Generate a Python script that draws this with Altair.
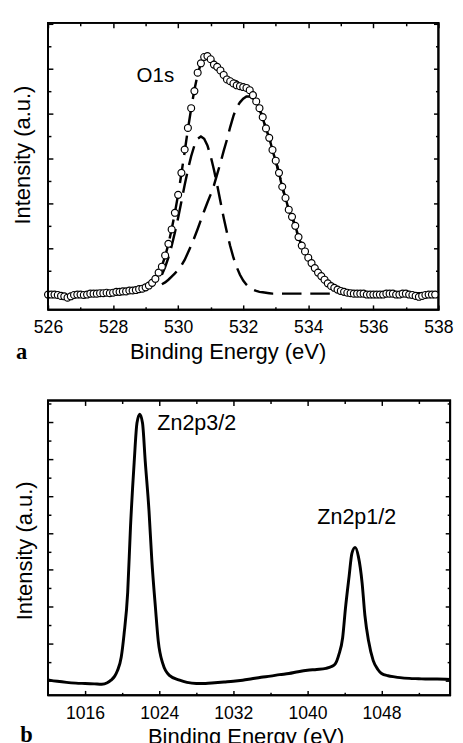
import altair as alt
import pandas as pd

FONT = "Liberation Sans"

# ---------------- panel a : O1s ----------------
o1s_start, o1s_step = 526.0, 0.1
o1s_intensity = [
    -0.03, -0.03, -0.03, -0.04, -0.06, -0.07, -0.10, -0.07, -0.04, -0.03,
    -0.03, -0.04, -0.03, -0.01, -0.01, -0.01, 0.00, 0.00, 0.01, 0.00,
    0.01, 0.03, 0.03, 0.04, 0.04, 0.06, 0.06, 0.07, 0.09, 0.10,
    0.13, 0.17, 0.23, 0.32, 0.46, 0.59, 0.84, 1.10, 1.42, 1.79,
    2.19, 2.68, 3.20, 3.68, 4.12, 4.50, 4.91, 5.12, 5.26, 5.28,
    5.21, 5.09, 5.04, 4.96, 4.86, 4.76, 4.72, 4.67, 4.63, 4.61,
    4.59, 4.57, 4.52, 4.41, 4.27, 4.12, 3.92, 3.67, 3.46, 3.19,
    2.95, 2.68, 2.37, 2.12, 1.86, 1.70, 1.50, 1.25, 1.06, 0.93,
    0.79, 0.67, 0.56, 0.46, 0.38, 0.30, 0.22, 0.16, 0.12, 0.08,
    0.05, 0.03, 0.01, 0.00, -0.01, -0.01, -0.01, -0.01, -0.03, -0.03,
    -0.03, -0.03, -0.03, -0.03, -0.01, -0.01, -0.01, -0.03, -0.03, -0.01,
    -0.01, -0.03, -0.04, -0.06, -0.08, -0.06, -0.04, -0.03, -0.03, -0.03,
]
fit_start = 529.5
fit_c1 = [
    0.41, 0.58, 0.79, 1.05, 1.35, 1.68, 2.04, 2.41, 2.75, 3.05,
    3.29, 3.44, 3.49, 3.44, 3.29, 3.05, 2.75, 2.41, 2.04, 1.68,
    1.35, 1.05, 0.79, 0.58, 0.41, 0.28, 0.19, 0.12, 0.08, 0.05,
    0.03, 0.02, 0.01, 0.00,
] + [-0.01] * 52
fit_c2 = [
    0.20, 0.24, 0.30, 0.37, 0.44, 0.52, 0.62, 0.74, 0.90, 1.06,
    1.24, 1.43, 1.63, 1.83, 2.02, 2.20, 2.40, 2.65, 2.90, 3.17,
    3.42, 3.70, 3.95, 4.14, 4.25, 4.33, 4.38, 4.38, 4.33, 4.22,
    4.09, 3.90, 3.66, 3.46, 3.19, 2.95, 2.68, 2.37, 2.12, 1.86,
    1.70, 1.50, 1.25, 1.06, 0.93, 0.79, 0.67, 0.56, 0.46, 0.38,
    0.30, 0.22, 0.16, 0.12, 0.08, 0.05, 0.03, 0.01,
] + [0.00] * 28
a_xdomain = [526, 538]
a_ydomain = [-0.37, 6.02]
a_xticks = [526, 527, 528, 529, 530, 531, 532, 533, 534, 535, 536, 537, 538]
a_xlabels = [526, 528, 530, 532, 534, 536, 538]
a_yticks = [0, 0.5, 1, 1.5, 2, 2.5, 3, 3.5, 4, 4.5, 5, 5.5, 6]
a_label = ["O1s"]
a_label_x = [529.3]
a_label_y = [4.83]

# ---------------- panel b : Zn2p ----------------
zn_energy = [
    1012.0, 1013.0, 1014.0, 1015.0, 1016.0, 1017.0, 1017.8, 1018.4, 1018.8, 1019.2,
    1019.5, 1019.9, 1020.2, 1020.6, 1020.9, 1021.3, 1021.6, 1021.9, 1022.2, 1022.5,
    1022.9, 1023.2, 1023.6, 1023.9, 1024.4, 1025.1, 1026.2, 1027.0, 1028.0, 1029.0,
    1030.0, 1031.0, 1032.0, 1033.0, 1034.0, 1035.0, 1036.0, 1037.0, 1038.0, 1039.0,
    1040.0, 1041.0, 1042.0, 1042.6, 1043.0, 1043.4, 1043.8, 1044.1, 1044.5, 1044.8,
    1045.15, 1045.5, 1045.9, 1046.2, 1046.6, 1047.1, 1047.6, 1048.0, 1048.7, 1049.4,
    1050.0, 1051.0, 1052.0, 1053.0, 1054.0, 1055.4,
]
zn_intensity = [
    0.02, -0.02, -0.05, -0.07, -0.08, -0.09, -0.10, -0.06, 0.01, 0.12,
    0.27, 0.63, 1.24, 2.39, 4.15, 5.92, 6.98, 7.22, 6.98, 5.92,
    4.60, 3.28, 1.96, 1.07, 0.45, 0.14, 0.01, -0.05, -0.08, -0.08,
    -0.06, -0.04, -0.02, 0.01, 0.05, 0.09, 0.12, 0.16, 0.19, 0.24,
    0.28, 0.30, 0.33, 0.38, 0.45, 0.71, 1.16, 1.95, 2.83, 3.45,
    3.61, 3.36, 2.65, 1.77, 1.07, 0.54, 0.30, 0.19, 0.13, 0.10,
    0.08, 0.06, 0.05, 0.04, 0.04, 0.03,
]
b_xdomain = [1012, 1055.4]
b_ydomain = [-0.40, 7.59]
b_xticks = [1016, 1020, 1024, 1028, 1032, 1036, 1040, 1044, 1048, 1052]
b_xlabels = [1016, 1024, 1032, 1040, 1048]
b_yticks = [0, 0.5, 1, 1.5, 2, 2.5, 3, 3.5, 4, 4.5, 5, 5.5, 6, 6.5, 7, 7.5]
b_label = ["Zn2p3/2", "Zn2p1/2"]
b_label_x = [1023.8, 1041.07]
b_label_y = [6.98, 4.42]

# ---------------- helpers ----------------
def label_axis_x(values, pad, tpad, title_x):
    return alt.Axis(orient="bottom", values=values, format="d", ticks=False, tickSize=0,
                    domain=False, grid=False, labelFont=FONT, labelFontSize=18,
                    labelColor="black", labelPadding=pad, labelFlush=False, labelOverlap=False,
                    title="Binding Energy (eV)", titleFont=FONT, titleFontSize=22.5,
                    titleFontWeight="normal", titleColor="black", titlePadding=tpad,
                    titleX=title_x, titleAlign="center")


def title_axis_y(tpad, title_y):
    return alt.Axis(orient="left", values=[], labels=False, ticks=False, domain=False,
                    grid=False, title="Intensity (a.u.)", titleFont=FONT, titleFontSize=22.5,
                    titleFontWeight="normal", titleColor="black", titlePadding=tpad,
                    titleY=title_y)


def tick_axis(orient, values, test, offset):
    return alt.Axis(orient=orient, values=values, offset=offset, labels=False,
                    grid=False, title=None, ticks=True, domain=False,
                    tickColor="black", tickWidth=1.5,
                    tickSize={"condition": {"test": test, "value": 5}, "value": 3})


def letter(ch, x, y):
    return alt.Chart(alt.Data(values=[{"t": ch}])).mark_text(
        font="Liberation Serif", fontWeight="bold", fontSize=23,
        align="center", baseline="middle", color="black"
    ).encode(text="t:N", x=alt.value(x), y=alt.value(y))


def frame(xdom, ydom, xs, ys):
    # closed outline of the plot area, drawn through the panel's own scales
    df = pd.DataFrame({
        "E": [xdom[0], xdom[1], xdom[1], xdom[0], xdom[0]],
        "I": [ydom[0], ydom[0], ydom[1], ydom[1], ydom[0]],
        "k": [0, 1, 2, 3, 4],
    })
    return alt.Chart(df).mark_line(color="black", strokeWidth=2, strokeJoin="miter").encode(
        x=alt.X("E:Q", scale=xs, axis=None),
        y=alt.Y("I:Q", scale=ys, axis=None),
        order="k:Q",
    )


# ---------------- panel a ----------------
W_A, H_A = 400, 294
XA = alt.Scale(domain=a_xdomain, nice=False, zero=False)
YA = alt.Scale(domain=a_ydomain, nice=False, zero=False)

o1s_df = pd.DataFrame({
    "E": [round(o1s_start + o1s_step * i, 2) for i in range(len(o1s_intensity))],
    "I": o1s_intensity,
})
fit_df = pd.DataFrame({
    "E": [round(fit_start + 0.1 * i, 2) for i in range(len(fit_c1))],
    "c1": fit_c1,
    "c2": fit_c2,
})
a_lbl_df = pd.DataFrame({"t": a_label, "E": a_label_x, "I": a_label_y})

dash = dict(strokeDash=[20, 9], strokeWidth=2.5, color="black")
a_c1 = alt.Chart(fit_df).mark_line(**dash).encode(
    x=alt.X("E:Q", scale=XA, axis=tick_axis("top", a_xticks, "datum.value % 2 === 0", -H_A)),
    y=alt.Y("c1:Q", scale=YA, axis=tick_axis("right", a_yticks, "datum.value % 1 === 0", -W_A)),
)
a_c2 = alt.Chart(fit_df).mark_line(**dash).encode(
    x=alt.X("E:Q", scale=XA, axis=tick_axis("bottom", a_xticks, "datum.value % 2 === 0", -H_A)),
    y=alt.Y("c2:Q", scale=YA, axis=tick_axis("left", a_yticks, "datum.value % 1 === 0", -W_A)),
)
a_fit = alt.Chart(fit_df).transform_calculate(fit="datum.c1 + datum.c2").mark_line(**dash).encode(
    x=alt.X("E:Q", scale=XA, axis=None),
    y=alt.Y("fit:Q", scale=YA, axis=None),
)
a_pts = alt.Chart(o1s_df).mark_point(
    shape="circle", filled=True, fill="white", stroke="black", strokeWidth=1.2, size=50, opacity=1
).encode(
    x=alt.X("E:Q", scale=XA, axis=label_axis_x(a_xlabels, 9, 5, 184)),
    y=alt.Y("I:Q", scale=YA, axis=title_axis_y(14, 135)),
)
a_txt = alt.Chart(a_lbl_df).mark_text(font=FONT, fontSize=21, align="center", baseline="middle", color="black").encode(
    x=alt.X("E:Q", scale=XA, axis=None), y=alt.Y("I:Q", scale=YA, axis=None), text="t:N"
)
panel_a = alt.layer(a_c1, a_c2, a_fit, a_pts, a_txt, letter("a", -27, 337),
                    frame(a_xdomain, a_ydomain, XA, YA)).resolve_axis(
    x="independent", y="independent"
).properties(width=W_A, height=H_A)

# ---------------- panel b ----------------
W_B, H_B = 412, 302
XB = alt.Scale(domain=b_xdomain, nice=False, zero=False)
YB = alt.Scale(domain=b_ydomain, nice=False, zero=False)

zn_df = pd.DataFrame({"E": zn_energy, "I": zn_intensity})
b_lbl_df = pd.DataFrame({"t": b_label, "E": b_label_x, "I": b_label_y})

b_line = alt.Chart(zn_df).mark_line(color="black", strokeWidth=3, interpolate="monotone", strokeJoin="round").encode(
    x=alt.X("E:Q", scale=XB, axis=label_axis_x(b_xlabels, 10, 3.5, 202.5)),
    y=alt.Y("I:Q", scale=YB, axis=title_axis_y(12, 153.5)),
)
b_t1 = alt.Chart(b_lbl_df.iloc[[0]]).mark_text(font=FONT, fontSize=22, align="left", baseline="middle", color="black").encode(
    x=alt.X("E:Q", scale=XB, axis=tick_axis("top", b_xticks, "datum.value % 8 === 0", -H_B)),
    y=alt.Y("I:Q", scale=YB, axis=tick_axis("right", b_yticks, "datum.value % 1 === 0", -W_B)),
    text="t:N",
)
b_t2 = alt.Chart(b_lbl_df.iloc[[1]]).mark_text(font=FONT, fontSize=22, align="left", baseline="middle", color="black").encode(
    x=alt.X("E:Q", scale=XB, axis=tick_axis("bottom", b_xticks, "datum.value % 8 === 0", -H_B)),
    y=alt.Y("I:Q", scale=YB, axis=tick_axis("left", b_yticks, "datum.value % 1 === 0", -W_B)),
    text="t:N",
)
panel_b = alt.layer(b_line, b_t1, b_t2, letter("b", -22, 343),
                    frame(b_xdomain, b_ydomain, XB, YB)).resolve_axis(
    x="independent", y="independent"
).properties(width=W_B, height=H_B)

chart = alt.concat(panel_a, panel_b, columns=1, spacing=32, align="none").properties(
    padding={"left": 3, "top": 1, "right": 0, "bottom": 0}, background="white"
).configure_view(stroke="black", strokeWidth=2)

chart.save("out.html", embed_options={"renderer": "svg", "actions": False})
